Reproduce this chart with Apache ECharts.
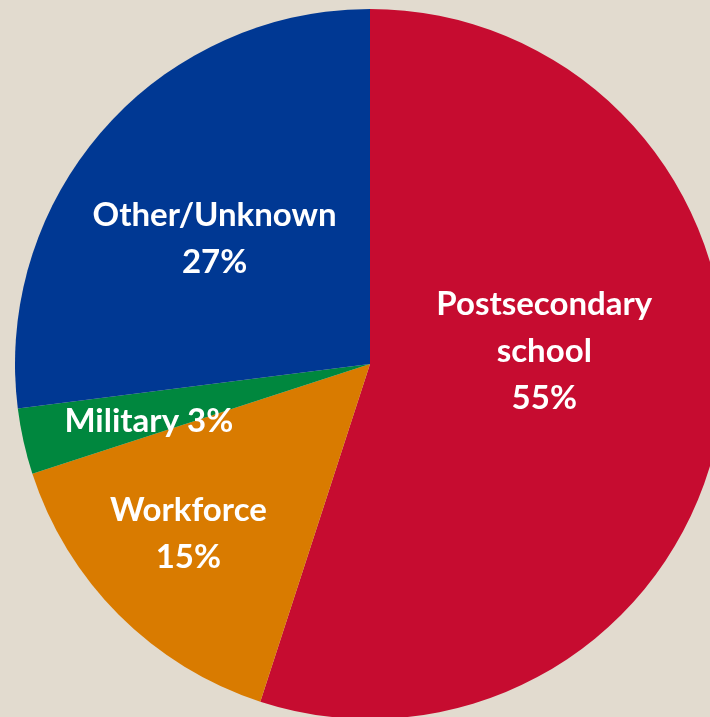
<!DOCTYPE html>
<html>
<head>
<meta charset="utf-8">
<script src="https://cdn.jsdelivr.net/npm/echarts@6/dist/echarts.min.js"></script>
<style>
  html, body { margin: 0; padding: 0; background: #e2dbcf; }
  #chart { width: 710px; height: 717px; }
</style>
</head>
<body>
<div id="chart"></div>
<script>
// slice data, clockwise from the top
var categories = ['Postsecondary\nschool', 'Workforce', 'Military', 'Other/Unknown'];
var values = [55, 15, 3, 27];
var colors = ['#c60c30', '#d97b00', '#00873e', '#003893'];
// label nudges so text sits where the original put it
var labelOffsets = [[-4, -41], [-54, 42], [-45, 18], [-20, -6]];
var labelFormats = ['{b}\n{c}%', '{b}\n{c}%', '{b} {c}%', '{b}\n{c}%'];

var data = categories.map(function (name, i) {
  return {
    name: name,
    value: values[i],
    itemStyle: { color: colors[i] },
    label: { offset: labelOffsets[i], formatter: labelFormats[i] }
  };
});

var option = {
  backgroundColor: '#e2dbcf',
  animation: false,
  series: [
    {
      type: 'pie',
      center: [370, 364],
      radius: [0, 355],
      startAngle: 90,
      clockwise: true,
      itemStyle: { borderWidth: 0 },
      label: {
        show: true,
        position: 'inside',
        color: '#ffffff',
        fontFamily: 'Lato',
        fontWeight: 'bold',
        fontSize: 33,
        lineHeight: 47,
        align: 'center'
      },
      labelLine: { show: false },
      data: data
    }
  ]
};

var myChart = echarts.init(document.getElementById('chart'));
myChart.setOption(option);
</script>
</body>
</html>
